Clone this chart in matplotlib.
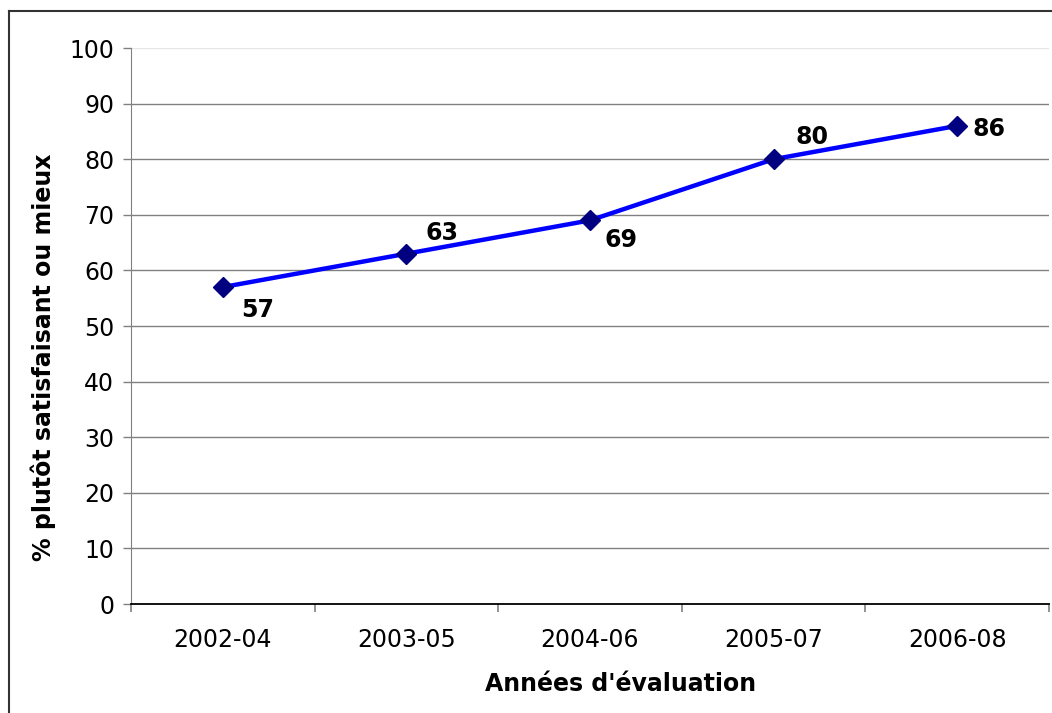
import matplotlib.pyplot as plt
from matplotlib.lines import Line2D

# Donnees du graphique
periodes = ["2002-04", "2003-05", "2004-06", "2005-07", "2006-08"]
pourcentages = [57, 63, 69, 80, 86]
y_ticks = [0, 10, 20, 30, 40, 50, 60, 70, 80, 90, 100]

# decalage des etiquettes (pixels)
decalages = [(35, -23), (36, 21), (31, -20), (38, 22), (32, -3)]

plt.rcParams['font.family'] = ['DejaVu Sans']

fig = plt.figure(figsize=(10.52, 7.13), dpi=100)
ax = fig.add_axes([131/1052, 1-604/713, (1049-131)/1052, (604-48)/713])

x = list(range(len(periodes)))
ax.plot(x, pourcentages, color='#0000ff', linewidth=3.2, zorder=3)
ax.plot(x, pourcentages, linestyle='none', marker='D', markersize=10,
        color='#000080', zorder=4)

for xi, v, (dx, dy) in zip(x, pourcentages, decalages):
    ax.annotate(str(v), (xi, v), xytext=(dx, dy), textcoords='offset pixels',
                ha='center', va='center', fontsize=17, fontweight='bold')

ax.set_xlim(-0.5, len(periodes) - 0.5)
ax.set_ylim(0, 100)
ax.set_yticks(y_ticks)
ax.set_xticks(x)
ax.set_xticklabels(periodes)
ax.set_xticks([i - 0.5 for i in range(len(periodes) + 1)], minor=True)
ax.tick_params(axis='x', which='major', length=0, pad=17, labelsize=17)
ax.tick_params(axis='x', which='minor', length=6, color='#808080', width=1.2)
ax.tick_params(axis='y', length=6, color='#808080', width=1, pad=6, labelsize=17)

for v in y_ticks[1:]:
    c = '#e6e6e6' if v == 100 else '#808080'
    ax.axhline(v, color=c, linewidth=1, zorder=1)

for s in ['top', 'right']:
    ax.spines[s].set_visible(False)
ax.spines['left'].set_color('#808080')
ax.spines['bottom'].set_color('black')
ax.spines['bottom'].set_linewidth(1.3)

ax.set_ylabel("% plutôt satisfaisant ou mieux", fontsize=17, fontweight='bold')
ax.set_xlabel("Années d'évaluation", fontsize=17, fontweight='bold')
ax.yaxis.set_label_coords(-75/918, 0.444)
ax.xaxis.set_label_coords(0.533, -68/556)

# cadre du graphique
fig.add_artist(Line2D([9.5/1052, 1.0], [1-11/713, 1-11/713], color='#333333', linewidth=1.5))
fig.add_artist(Line2D([9.5/1052, 9.5/1052], [0.0, 1-11/713], color='#333333', linewidth=1.5))

fig.savefig("out.png", dpi=100)
